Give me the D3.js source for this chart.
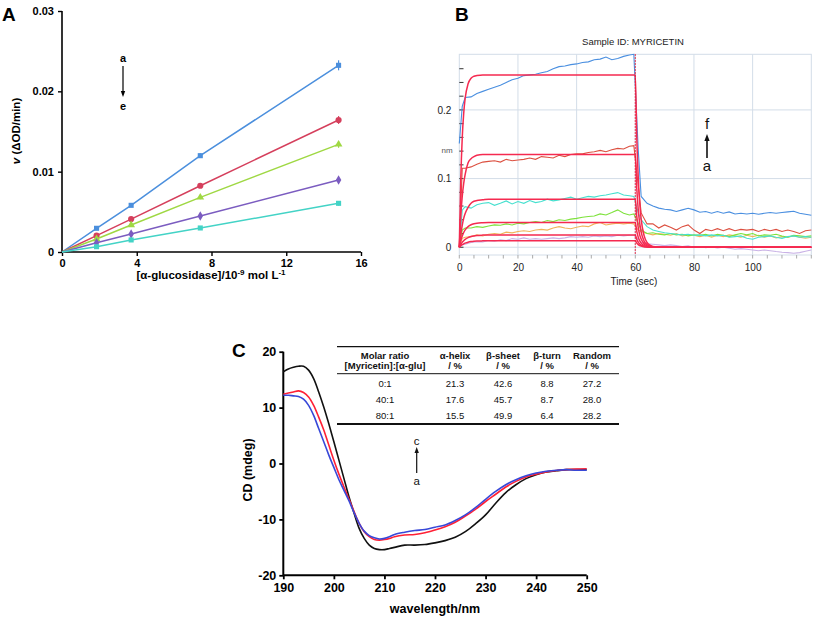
<!DOCTYPE html>
<html><head><meta charset="utf-8">
<script src="https://cdn.jsdelivr.net/npm/d3@7"></script>
<style>
body{margin:0;background:#fff;}
svg{display:block;font-family:"Liberation Sans",Arial,Helvetica,sans-serif;}
</style></head><body>
<svg id="fig" width="813" height="618"></svg>
<script>
// ---------------- Panel A data ----------------
const concA = [1.85, 3.7, 7.4, 14.8];
const seriesNamesA = ["a","b","c","d","e"];
const vA_a = [0.00295, 0.00581, 0.01199, 0.02324];
const vA_b = [0.00203, 0.00410, 0.00825, 0.01643];
const vA_c = [0.00162, 0.00336, 0.00680, 0.01340];
const vA_d = [0.00116, 0.00224, 0.00448, 0.00896];
const vA_e = [0.00066, 0.00150, 0.00299, 0.00606];
const errA = [0.0002, 0.0002, 0.0003, 0.0004];
const yTicksA = [0, 0.01, 0.02, 0.03];
const xTicksA = [0, 4, 8, 12, 16];

// ---------------- Panel B data ----------------
const measT = [0,1,2,4,6,8,10,12,14,16,18,20,22,24,26,28,30,32,34,36,38,40,42,44,46,48,50,52,54,56,58,59.5,
  61,62,64,66,68,70,72,74,76,78,80,82,84,86,88,90,92,94,96,98,100,102,104,106,108,110,112,114,116,118,120];
const mBlue = [0.151,0.205,0.218,0.219,0.224,0.227,0.230,0.233,0.236,0.240,0.244,0.246,0.250,0.251,0.252,0.254,0.256,0.260,0.263,0.264,0.266,0.267,0.269,0.270,0.273,0.274,0.277,0.273,0.275,0.278,0.280,0.281,
  0.142,0.074,0.064,0.060,0.057,0.0553,0.0544,0.052,0.0544,0.0568,0.0544,0.051,0.052,0.0495,0.052,0.0495,0.0515,0.0485,0.0495,0.0485,0.0495,0.048,0.0495,0.0505,0.0495,0.0505,0.0515,0.0524,0.0495,0.048,0.0466];
const mRed = [0,0.115,0.115,0.117,0.121,0.124,0.125,0.126,0.124,0.128,0.126,0.127,0.128,0.130,0.128,0.132,0.131,0.130,0.134,0.132,0.135,0.136,0.136,0.138,0.139,0.141,0.139,0.142,0.144,0.143,0.147,0.148,
  0.09,0.05,0.034,0.034,0.028,0.0325,0.029,0.025,0.030,0.0325,0.025,0.020,0.026,0.024,0.027,0.024,0.027,0.024,0.026,0.025,0.026,0.023,0.026,0.024,0.026,0.023,0.025,0.023,0.020,0.024,0.025];
const mCyan = [0,0.054,0.059,0.057,0.062,0.064,0.065,0.061,0.064,0.0675,0.063,0.0665,0.064,0.068,0.065,0.0665,0.070,0.0675,0.069,0.071,0.073,0.070,0.072,0.074,0.073,0.075,0.076,0.078,0.0796,0.076,0.075,0.074,
  0.05,0.04,0.030,0.025,0.023,0.021,0.020,0.019,0.018,0.019,0.0175,0.018,0.0165,0.018,0.0165,0.0175,0.0146,0.0155,0.0165,0.013,0.0117,0.0146,0.0155,0.0165,0.0146,0.013,0.0155,0.0165,0.0146,0.0155,0.0146];
const mGreen = [0,0.025,0.028,0.028,0.030,0.029,0.031,0.0325,0.032,0.034,0.0325,0.035,0.034,0.036,0.0374,0.036,0.039,0.0374,0.040,0.039,0.041,0.042,0.0437,0.0447,0.0456,0.0485,0.047,0.0505,0.0544,0.0495,0.047,0.0485,
  0.035,0.025,0.020,0.021,0.019,0.018,0.020,0.018,0.019,0.0165,0.018,0.0175,0.019,0.0165,0.019,0.0175,0.0155,0.018,0.020,0.018,0.020,0.0165,0.018,0.0175,0.019,0.0165,0.0146,0.0175,0.0165,0.0155,0.0165];
const mOrange = [0,0.013,0.0146,0.0155,0.018,0.0165,0.019,0.020,0.019,0.022,0.021,0.023,0.024,0.023,0.025,0.026,0.025,0.028,0.030,0.028,0.027,0.029,0.031,0.030,0.034,0.036,0.0325,0.034,0.035,0.034,0.035,0.034,
  0.025,0.023,0.020,0.018,0.020,0.019,0.0175,0.020,0.0165,0.018,0.0175,0.0155,0.0175,0.0146,0.0175,0.0155,0.018,0.0165,0.0146,0.0175,0.0155,0.0175,0.0146,0.0165,0.0136,0.0155,0.0146,0.0165,0.0146,0.013,0.0146];
const mLav = [0,0.0034,0.0044,0.0068,0.008,0.0078,0.0097,0.0087,0.0107,0.0097,0.0126,0.0117,0.0136,0.0117,0.0126,0.0117,0.0126,0.0136,0.0126,0.0136,0.0155,0.0146,0.0155,0.0146,0.0165,0.0155,0.0165,0.0155,0.0175,0.0165,0.0175,0.0175,
  0.012,0.0068,0.0049,0.0044,0.0034,0.0024,0.0034,0.0024,0.001,0.002,0,0.001,-0.0005,0.0005,-0.001,0,-0.0015,-0.003,-0.002,-0.003,-0.004,-0.005,-0.004,-0.005,-0.0063,-0.0073,-0.0078,-0.0087,-0.0078,-0.0058,-0.004];
const fitT = [0,0.5,1,1.5,2,3,4,5,6,8,10,60,60.5,61,61.5,62,63,64,65,66,68,70,120];
const fit1 = [0,0.099,0.159,0.195,0.217,0.238,0.246,0.249,0.250,0.251,0.251,0.251,0.16,0.102,0.065,0.041,0.017,0.007,0.003,0.001,0.0002,0,0];
const fit2 = [0,0.045,0.074,0.093,0.106,0.123,0.129,0.132,0.134,0.135,0.135,0.135,0.086,0.055,0.035,0.022,0.009,0.004,0.0015,0.0006,0.0001,0,0];
const fit3 = [0,0.018,0.032,0.042,0.049,0.058,0.064,0.067,0.068,0.069,0.070,0.070,0.045,0.029,0.018,0.012,0.005,0.002,0.0008,0.0003,0,0,0];
const fit4 = [0,0.0094,0.0162,0.0214,0.0252,0.030,0.0327,0.0342,0.0351,0.0357,0.036,0.036,0.023,0.0147,0.0094,0.006,0.0025,0.001,0.0004,0.0002,0,0,0];
const fit5 = [0,0.004,0.0071,0.0095,0.0114,0.014,0.0156,0.0165,0.0171,0.0177,0.018,0.018,0.0115,0.0074,0.0047,0.003,0.0012,0.0005,0.0002,0,0,0,0];
const fit6 = [0,0.0021,0.0037,0.005,0.006,0.0074,0.0082,0.0087,0.009,0.0093,0.0095,0.0095,0.006,0.0039,0.0025,0.0016,0.0006,0.0003,0.0001,0,0,0,0];
const xTicksB = [0,20,40,60,80,100];
const yTicksB = [0,0.1,0.2];

// ---------------- Panel C data ----------------
const wl = [190,191,192,193,194,195,196,197,198,199,200,201,202,203,204,205,206,207,208,209,210,211,212,214,216,218,220,222,224,226,228,230,232,234,236,238,240,242,244,246,248,250];
const cdBlack = [16.4,16.9,17.2,17.4,17.4,16.7,15.2,12.8,10.1,7.1,3.9,0.6,-2.7,-6.0,-8.9,-11.6,-13.4,-14.6,-15.2,-15.4,-15.4,-15.2,-15.0,-14.6,-14.6,-14.5,-14.2,-13.8,-13.2,-12.2,-10.8,-9.2,-7.1,-5.2,-3.8,-2.7,-2.0,-1.5,-1.3,-1.1,-1.1,-1.1];
const cdRed = [12.4,12.6,12.8,13.0,12.7,11.9,10.4,8.3,6.0,3.3,0.6,-1.9,-4.2,-6.4,-8.6,-10.7,-12.2,-13.1,-13.6,-13.7,-13.6,-13.4,-13.1,-12.8,-12.7,-12.4,-11.9,-11.3,-10.5,-9.4,-8.2,-6.8,-5.5,-4.2,-3.2,-2.4,-1.9,-1.5,-1.25,-1.1,-1.0,-0.95];
const cdBlue = [12.2,12.2,12.1,12.0,11.5,10.4,8.6,6.25,3.9,1.5,-0.7,-2.9,-4.8,-6.7,-8.8,-10.7,-12.1,-12.9,-13.3,-13.5,-13.4,-13.1,-12.7,-12.3,-12.0,-11.8,-11.4,-11.0,-10.2,-9.2,-7.9,-6.4,-5.0,-3.8,-2.9,-2.2,-1.7,-1.4,-1.2,-1.1,-1.2,-1.2];
const xTicksC = [190,200,210,220,230,240,250];
const yTicksC = [-20,-10,0,10,20];
const tableHead = [["Molar ratio","[Myricetin]:[α-glu]"],["α-helix","/ %"],["β-sheet","/ %"],["β-turn","/ %"],["Random","/ %"]];
const tableRows = [["0:1","21.3","42.6","8.8","27.2"],["40:1","17.6","45.7","8.7","28.0"],["80:1","15.5","49.9","6.4","28.2"]];

// ================= drawing =================
const svg = d3.select("#fig");

function arrow(g, x, y1, y2, w, hw, hl, color){
  const dir = y2 > y1 ? 1 : -1;
  g.append("line").attr("x1",x).attr("x2",x).attr("y1",y1).attr("y2",y2 - dir*hl*0.8)
    .attr("stroke",color).attr("stroke-width",w);
  g.append("path").attr("d",`M${x-hw},${y2-dir*hl} L${x+hw},${y2-dir*hl} L${x},${y2} Z`).attr("fill",color);
}

// ---------- Panel A ----------
{
  const g = svg.append("g");
  const x = d3.scaleLinear([0,16],[62,361]);
  const y = d3.scaleLinear([0,0.03],[252,11]);
  const ax = g.append("g").attr("transform","translate(0,252)")
    .call(d3.axisBottom(x).tickValues(xTicksA).tickSize(4).tickPadding(3).tickFormat(d3.format("d")));
  const ay = g.append("g").attr("transform","translate(62,0)")
    .call(d3.axisLeft(y).tickValues(yTicksA).tickSize(4).tickPadding(4).tickFormat(d => d===0?"0":d3.format(".2f")(d)));
  [ax,ay].forEach(a=>{
    a.select(".domain").attr("stroke","#000").attr("stroke-width",1.6);
    a.selectAll(".tick line").attr("stroke","#000").attr("stroke-width",1.4);
    a.selectAll(".tick text").attr("font-size",11).attr("font-weight","bold").attr("fill","#000").attr("font-family","Liberation Sans, Arial");
  });
  ax.select(".domain").attr("d","M62,0H361");
  ay.select(".domain").attr("d","M0,11V252");

  const cols = ["#4b8fdd","#d53f5c","#9fd843","#7b5cc0","#43d3c6"];
  const syms = [d3.symbolSquare, d3.symbolCircle, d3.symbolTriangle, d3.symbolDiamond, d3.symbolSquare];
  const vals = [vA_a,vA_b,vA_c,vA_d,vA_e];
  vals.forEach((v,i)=>{
    const pts = [[0,0]].concat(concA.map((c,j)=>[c,v[j]]));
    g.append("path").datum(pts).attr("fill","none").attr("stroke",cols[i]).attr("stroke-width",1.5)
      .attr("d", d3.line().x(d=>x(d[0])).y(d=>y(d[1])));
    concA.forEach((c,j)=>{
      const e = errA[j]*(v[j]/0.02+0.4);
      g.append("line").attr("x1",x(c)).attr("x2",x(c)).attr("y1",y(v[j]-e)).attr("y2",y(v[j]+e))
        .attr("stroke",cols[i]).attr("stroke-width",1.2);
      g.append("path").attr("d",d3.symbol(syms[i], i===1?30:26)()).attr("transform",`translate(${x(c)},${y(v[j])})`)
        .attr("fill",cols[i]);
    });
  });
  g.append("text").attr("x",2).attr("y",21).attr("font-size",19).attr("font-weight","bold").text("A");
  g.append("text").attr("transform","translate(20,131) rotate(-90)").attr("text-anchor","middle")
    .attr("font-size",11.5).attr("font-weight","bold")
    .html('<tspan font-style="italic">v</tspan> (ΔOD/min)');
  g.append("text").attr("x",211).attr("y",279).attr("text-anchor","middle").attr("font-size",11.5).attr("font-weight","bold")
    .html('[α-glucosidase]/10<tspan dy="-4" font-size="8">-9</tspan><tspan dy="4"> mol L</tspan><tspan dy="-4" font-size="8">-1</tspan>');
  g.append("text").attr("x",123).attr("y",62).attr("text-anchor","middle").attr("font-size",11).attr("font-weight","bold").text("a");
  arrow(g,123,66,97,1.2,2.2,6,"#000");
  g.append("text").attr("x",123).attr("y",110).attr("text-anchor","middle").attr("font-size",11).attr("font-weight","bold").text("e");
}

// ---------- Panel B ----------
{
  const g = svg.append("g");
  const x = d3.scaleLinear([0,120],[459.3,811.3]);
  const y = d3.scaleLinear([-0.0113,0.281],[255,54.3]);
  const grid = "#d3dde8";
  xTicksB.filter(t=>t>0).forEach(t=>g.append("line").attr("x1",x(t)).attr("x2",x(t)).attr("y1",54.3).attr("y2",255).attr("stroke",grid));
  yTicksB.forEach(t=>g.append("line").attr("x1",459.3).attr("x2",811.3).attr("y1",y(t)).attr("y2",y(t)).attr("stroke",grid));
  g.append("rect").attr("x",459.3).attr("y",54.3).attr("width",352).attr("height",200.7).attr("fill","none").attr("stroke",grid);
  d3.range(0,0.27,0.02).forEach(t=>g.append("line").attr("x1",459.3).attr("x2",463.5).attr("y1",y(t)).attr("y2",y(t)).attr("stroke","#333").attr("stroke-width",1));
  d3.range(0,121,5).forEach(t=>g.append("line").attr("x1",x(t)).attr("x2",x(t)).attr("y1",255).attr("y2",258.5).attr("stroke","#aaa").attr("stroke-width",1));
  const ax = g.append("g").attr("transform","translate(0,255)")
    .call(d3.axisBottom(x).tickValues(xTicksB).tickSize(0).tickPadding(9));
  const ay = g.append("g").attr("transform","translate(459.3,0)")
    .call(d3.axisLeft(y).tickValues(yTicksB).tickSize(0).tickPadding(8).tickFormat(d=>d===0?"0":d3.format(".1f")(d)));
  [ax,ay].forEach(a=>{
    a.select(".domain").remove();
    a.selectAll(".tick text").attr("font-size",10).attr("fill","#222").attr("font-family","Liberation Sans, Arial");
  });
  const line = d3.line().x(d=>x(d[0])).y(d=>y(d[1]));
  const meas = [[mLav,"#c9b2e6"],[mOrange,"#f0b45a"],[mGreen,"#7ee23c"],[mCyan,"#46e0cf"],[mRed,"#dc5040"],[mBlue,"#4a8fe0"]];
  meas.forEach(([v,c])=>{
    g.append("path").datum(measT.map((t,i)=>[t,v[i]])).attr("fill","none").attr("stroke",c).attr("stroke-width",1.1).attr("d",line);
  });
  [fit1,fit2,fit3,fit4,fit5,fit6].forEach(v=>{
    g.append("path").datum(fitT.map((t,i)=>[t,v[i]])).attr("fill","none").attr("stroke","#f52a50").attr("stroke-width",1.5)
      .attr("d",d3.line().x(d=>x(d[0])).y(d=>y(d[1])).curve(d3.curveMonotoneX));
  });
  g.append("line").attr("x1",x(60)).attr("x2",x(60)).attr("y1",54.3).attr("y2",255).attr("stroke","#e8203c").attr("stroke-width",1.2).attr("stroke-dasharray","1.5,1.5");
  g.append("text").attr("x",633).attr("y",45).attr("text-anchor","middle").attr("font-size",9.5).attr("fill","#222").text("Sample ID: MYRICETIN");
  g.append("text").attr("x",634).attr("y",285).attr("text-anchor","middle").attr("font-size",10).attr("fill","#222").text("Time (sec)");
  g.append("text").attr("x",447).attr("y",153).attr("text-anchor","middle").attr("font-size",8).attr("fill","#555").text("nm");
  g.append("text").attr("x",455).attr("y",21).attr("font-size",19).attr("font-weight","bold").text("B");
  g.append("text").attr("x",707).attr("y",129).attr("text-anchor","middle").attr("font-size",15).attr("fill","#111").text("f");
  arrow(g,707,158,134,1.6,2.6,7,"#111");
  g.append("text").attr("x",707).attr("y",171).attr("text-anchor","middle").attr("font-size",15).attr("fill","#111").text("a");
}

// ---------- Panel C ----------
{
  const g = svg.append("g");
  const x = d3.scaleLinear([190,250],[283.3,586.7]);
  const y = d3.scaleLinear([-20,20],[575.3,351.7]);
  const ax = g.append("g").attr("transform","translate(0,575.3)")
    .call(d3.axisBottom(x).tickValues(xTicksC).tickSize(4).tickPadding(4));
  const ay = g.append("g").attr("transform","translate(283.3,0)")
    .call(d3.axisLeft(y).tickValues(yTicksC).tickSize(4).tickPadding(3).tickFormat(d=>String(d)));
  [ax,ay].forEach(a=>{
    a.select(".domain").attr("stroke","#000").attr("stroke-width",2);
    a.selectAll(".tick line").attr("stroke","#000").attr("stroke-width",1.8);
    a.selectAll(".tick text").attr("font-size",12.5).attr("font-weight","bold").attr("fill","#000").attr("font-family","Liberation Sans, Arial");
  });
  ax.select(".domain").attr("d","M283.3,0H586.7");
  ay.select(".domain").attr("d","M0,351.7V575.3");
  const line = d3.line().x((d,i)=>x(wl[i])).y(d=>y(d)).curve(d3.curveCatmullRom);
  [[cdBlack,"#111"],[cdRed,"#ff2035"],[cdBlue,"#3848d8"]].forEach(([v,c])=>{
    g.append("path").datum(v).attr("fill","none").attr("stroke",c).attr("stroke-width",1.6).attr("d",line);
  });
  g.append("text").attr("x",232).attr("y",357).attr("font-size",19).attr("font-weight","bold").text("C");
  g.append("text").attr("transform","translate(252,470) rotate(-90)").attr("text-anchor","middle")
    .attr("font-size",12.5).attr("font-weight","bold").text("CD (mdeg)");
  g.append("text").attr("x",435).attr("y",613).attr("text-anchor","middle").attr("font-size",12.5).attr("font-weight","bold").text("wavelength/nm");
  const colX = [385,455,503,547,592];
  g.append("line").attr("x1",337).attr("x2",619).attr("y1",346.7).attr("y2",346.7).attr("stroke","#111").attr("stroke-width",1.3);
  g.append("line").attr("x1",337).attr("x2",619).attr("y1",373.7).attr("y2",373.7).attr("stroke","#111").attr("stroke-width",1);
  g.append("line").attr("x1",337).attr("x2",619).attr("y1",424).attr("y2",424).attr("stroke","#111").attr("stroke-width",1.8);
  tableHead.forEach((h,i)=>{
    h.forEach((s,k)=>g.append("text").attr("x",colX[i]).attr("y",359.3+k*10).attr("text-anchor","middle")
      .attr("font-size",9.5).attr("font-weight","bold").attr("fill","#111").text(s));
  });
  tableRows.forEach((r,j)=>{
    r.forEach((s,i)=>g.append("text").attr("x",colX[i]).attr("y",387+j*15.8).attr("text-anchor","middle")
      .attr("font-size",9.5).attr("fill","#111").text(s));
  });
  g.append("text").attr("x",416.7).attr("y",444.5).attr("text-anchor","middle").attr("font-size",11.5).attr("fill","#111").text("c");
  arrow(g,416.7,473,447,1.2,2.2,6,"#111");
  g.append("text").attr("x",416.7).attr("y",484.5).attr("text-anchor","middle").attr("font-size",11.5).attr("fill","#111").text("a");
}
</script>
</body></html>
